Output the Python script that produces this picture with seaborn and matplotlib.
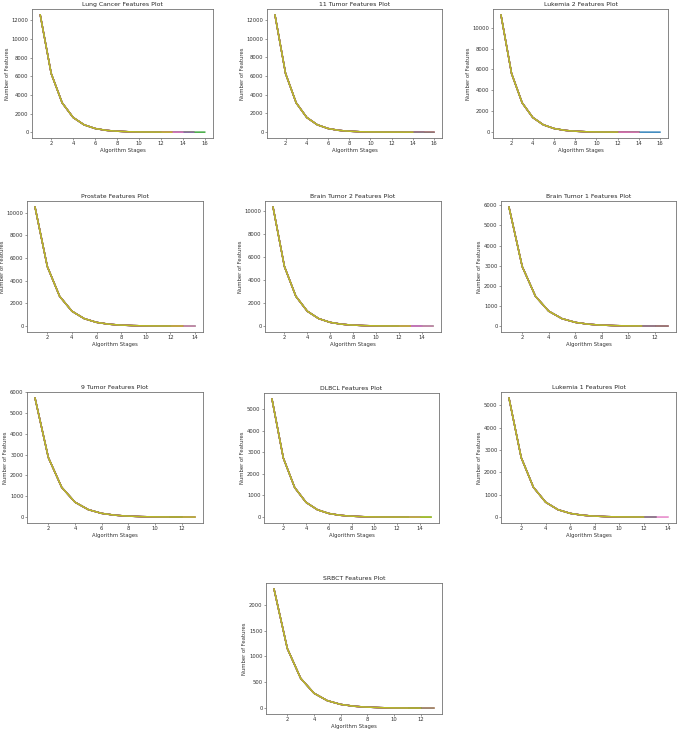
import numpy as np
import pandas as pd
import matplotlib
matplotlib.use("Agg")
import matplotlib.pyplot as plt
import seaborn as sns

# values per stage (each run ~halves the feature set)
lung_cancer = [12600, 6300, 3150, 1575, 787, 393, 196, 98, 49, 24, 12, 6, 3, 2, 1, 1]
tumor_11 = [12533, 6266, 3133, 1566, 783, 391, 195, 97, 48, 24, 12, 6, 3, 2, 1, 1]
lukemia_2 = [11225, 5612, 2806, 1403, 701, 350, 175, 87, 43, 21, 10, 5, 3, 2, 1, 1]
prostate = [10509, 5254, 2627, 1313, 656, 328, 164, 82, 41, 20, 10, 5, 3, 1]
brain_tumor_2 = [10367, 5183, 2591, 1295, 647, 323, 161, 80, 40, 20, 10, 5, 3, 2, 1]
brain_tumor_1 = [5920, 2960, 1480, 740, 370, 185, 92, 46, 23, 11, 5, 3, 1]
tumor_9 = [5726, 2863, 1431, 715, 357, 178, 89, 44, 22, 11, 5, 3, 1]
dlbcl = [5469, 2734, 1367, 683, 341, 170, 85, 42, 21, 10, 5, 3, 2, 1, 1]
lukemia_1 = [5327, 2663, 1331, 665, 332, 166, 83, 41, 20, 10, 5, 2, 1, 1]
srbct = [2308, 1154, 577, 288, 144, 72, 36, 18, 9, 4, 2, 1, 1]

# number of stages reached by each of the 9 runs
lung_cancer_ends = [14, 15, 16, 13, 15, 13, 14, 12, 13]
tumor_11_ends = [15, 14, 15, 16, 14, 13, 15, 16, 14]
lukemia_2_ends = [16, 13, 14, 12, 13, 14, 14, 12, 12]
prostate_ends = [13, 12, 14, 13, 12, 13, 14, 12, 13]
brain_tumor_2_ends = [14, 13, 15, 12, 14, 13, 15, 12, 13]
brain_tumor_1_ends = [12, 11, 12, 13, 11, 12, 12, 13, 11]
tumor_9_ends = [12, 13, 11, 12, 13, 12, 11, 12, 13]
dlbcl_ends = [14, 13, 15, 12, 14, 13, 14, 13, 15]
lukemia_1_ends = [13, 12, 13, 12, 13, 12, 14, 13, 12]
srbct_ends = [12, 13, 12, 11, 12, 12, 11, 13, 12]

titles = ["Lung Cancer", "11 Tumor", "Lukemia 2", "Prostate", "Brain Tumor 2",
          "Brain Tumor 1", "9 Tumor", "DLBCL", "Lukemia 1", "SRBCT"]
curves = [lung_cancer, tumor_11, lukemia_2, prostate, brain_tumor_2,
          brain_tumor_1, tumor_9, dlbcl, lukemia_1, srbct]
ends = [lung_cancer_ends, tumor_11_ends, lukemia_2_ends, prostate_ends, brain_tumor_2_ends,
        brain_tumor_1_ends, tumor_9_ends, dlbcl_ends, lukemia_1_ends, srbct_ends]

# axes boxes in pixels: left, top, right, bottom
boxes = [(32, 9, 213, 138), (267, 9, 442, 138), (493, 9, 668, 138),
         (27, 201, 203, 332), (265, 201, 441, 332), (501, 201, 676, 332),
         (27, 392, 203, 523), (264, 393, 439, 523), (501, 392, 676, 523),
         (266, 583, 442, 714)]

W, H = 678, 731
fig = plt.figure(figsize=(W / 100, H / 100), dpi=100)
palette = sns.color_palette("tab10")

for title, curve, run_ends, (l, t, r, b) in zip(titles, curves, ends, boxes):
    ax = fig.add_axes([l / W, 1 - b / H, (r - l) / W, (b - t) / H])
    for i, n in enumerate(run_ends):
        df = pd.DataFrame({"stage": np.arange(1, n + 1), "features": curve[:n]})
        sns.lineplot(data=df, x="stage", y="features", ax=ax, color=palette[i],
                     linewidth=1.0)
    ax.set_title(f"{title} Features Plot", fontsize=4.4, pad=2, color="0.15")
    ax.set_xlabel("Algorithm Stages", fontsize=3.8, labelpad=1, color="0.2")
    ax.set_ylabel("Number of Features", fontsize=3.8, labelpad=1.5, color="0.2")
    ax.tick_params(labelsize=3.8, length=1.3, width=0.4, pad=1.2,
                   color="0.3", labelcolor="0.2")
    for s in ax.spines.values():
        s.set_linewidth(0.6)
        s.set_color("0.45")

fig.savefig("out.png", dpi=100)
